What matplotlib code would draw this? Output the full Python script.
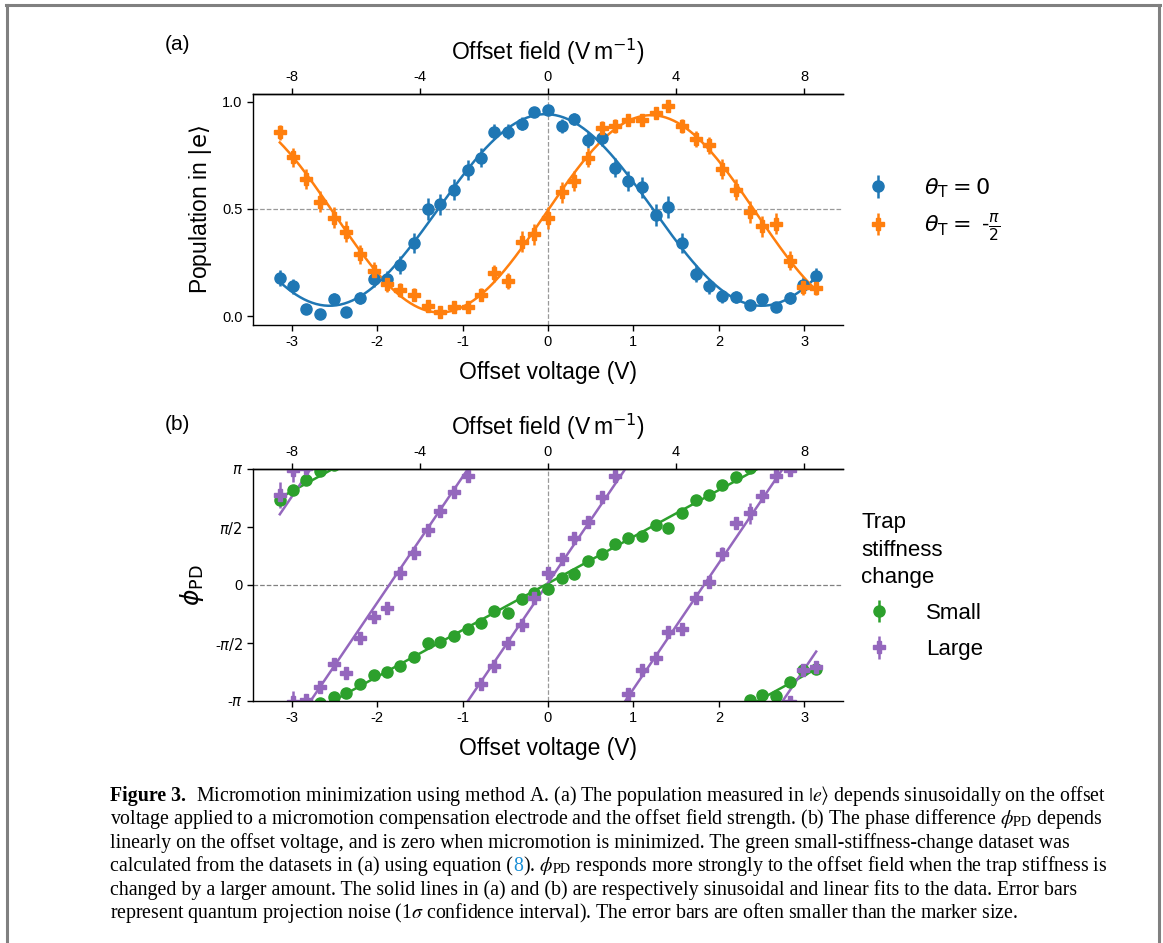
import numpy as np
import matplotlib
matplotlib.use('Agg')
import matplotlib.pyplot as plt
from matplotlib.lines import Line2D

plt.rcParams['font.family'] = ['Liberation Sans', 'DejaVu Sans']
plt.rcParams['axes.unicode_minus'] = False
plt.rcParams['mathtext.fontset'] = 'dejavusans'

PI = np.pi
FIELD_PER_VOLT = 8 / 3  # offset field (V/m) per offset voltage (V)

# offset voltage (V)
voltage = np.array([-3.14, -2.98, -2.83, -2.67, -2.51, -2.36, -2.20, -2.04, -1.88, -1.73,
                    -1.57, -1.41, -1.26, -1.10, -0.94, -0.79, -0.63, -0.47, -0.31, -0.16,
                    0.00, 0.16, 0.31, 0.47, 0.63, 0.79, 0.94, 1.10, 1.26, 1.41,
                    1.57, 1.73, 1.88, 2.04, 2.20, 2.36, 2.51, 2.67, 2.83, 2.98, 3.14])

# (a) population in |e>
pop_theta0 = np.array([0.179, 0.139, 0.031, 0.008, 0.081, 0.020, 0.083, 0.172, 0.172, 0.239,
                       0.339, 0.499, 0.521, 0.590, 0.680, 0.740, 0.860, 0.860, 0.899, 0.952,
                       0.961, 0.888, 0.919, 0.821, 0.830, 0.693, 0.630, 0.602, 0.471, 0.509,
                       0.340, 0.198, 0.140, 0.092, 0.089, 0.050, 0.078, 0.041, 0.083, 0.147, 0.187])
err_theta0 = np.array([0.038, 0.035, 0.017, 0.010, 0.028, 0.014, 0.028, 0.038, 0.038, 0.043,
                       0.047, 0.050, 0.050, 0.049, 0.047, 0.044, 0.035, 0.035, 0.030, 0.021,
                       0.020, 0.032, 0.027, 0.038, 0.038, 0.046, 0.048, 0.049, 0.050, 0.050,
                       0.047, 0.040, 0.035, 0.029, 0.029, 0.022, 0.027, 0.020, 0.028, 0.035, 0.039])
pop_theta_m90 = np.array([0.858, 0.741, 0.641, 0.534, 0.460, 0.393, 0.289, 0.211, 0.150, 0.122,
                          0.100, 0.048, 0.020, 0.041, 0.042, 0.100, 0.200, 0.162, 0.348, 0.381,
                          0.457, 0.577, 0.630, 0.740, 0.880, 0.888, 0.917, 0.917, 0.949, 0.980,
                          0.888, 0.828, 0.797, 0.688, 0.590, 0.485, 0.420, 0.431, 0.259, 0.134, 0.131])
err_theta_m90 = np.array([0.035, 0.044, 0.048, 0.050, 0.050, 0.049, 0.045, 0.041, 0.036, 0.033,
                          0.030, 0.021, 0.014, 0.020, 0.020, 0.030, 0.040, 0.037, 0.048, 0.049,
                          0.050, 0.049, 0.048, 0.044, 0.032, 0.032, 0.028, 0.028, 0.022, 0.014,
                          0.032, 0.038, 0.040, 0.046, 0.049, 0.050, 0.049, 0.050, 0.044, 0.034, 0.034])

# (b) phase difference phi_PD, in units of pi
phase_small = np.array([0.729, 0.816, 0.908, 0.980, -0.965, -0.931, -0.856, -0.778, -0.749, -0.695,
                        -0.622, -0.504, -0.490, -0.441, -0.383, -0.326, -0.222, -0.245, -0.118, -0.072,
                        -0.035, 0.063, 0.095, 0.207, 0.271, 0.354, 0.406, 0.424, 0.519, 0.493,
                        0.622, 0.735, 0.778, 0.862, 0.928, -0.990, -0.948, -0.957, -0.836, -0.735, -0.720])
err_small = np.array([0.03, 0.025, 0.02, 0.02, 0.02, 0.02, 0.02, 0.02, 0.02, 0.02,
                      0.02, 0.02, 0.02, 0.02, 0.02, 0.02, 0.02, 0.02, 0.02, 0.02,
                      0.02, 0.02, 0.02, 0.02, 0.02, 0.02, 0.02, 0.02, 0.02, 0.02,
                      0.02, 0.02, 0.02, 0.02, 0.02, 0.02, 0.02, 0.02, 0.02, 0.025, 0.03])
phase_large = np.array([0.778, 0.990, -0.990, -0.879, -0.677, -0.755, -0.455, -0.274, -0.202, 0.107,
                        0.280, 0.476, 0.634, 0.798, 0.942, -0.850, -0.700, -0.504, -0.349, -0.115,
                        0.101, 0.222, 0.406, 0.545, 0.755, 0.937, -0.942, -0.735, -0.631, -0.403,
                        -0.375, -0.115, 0.029, 0.268, 0.533, 0.620, 0.769, 0.942, 0.990, -0.729, -0.706])
err_large = np.array([0.11, 0.10, 0.05, 0.04, 0.04, 0.035, 0.04, 0.035, 0.035, 0.035,
                      0.035, 0.035, 0.035, 0.035, 0.035, 0.035, 0.035, 0.035, 0.035, 0.035,
                      0.04, 0.035, 0.035, 0.035, 0.035, 0.035, 0.035, 0.035, 0.04, 0.035,
                      0.035, 0.04, 0.05, 0.06, 0.04, 0.09, 0.04, 0.04, 0.04, 0.035, 0.035])

C_BLUE, C_ORANGE, C_GREEN, C_PURPLE = '#1f77b4', '#ff7f0e', '#2ca02c', '#9467bd'

CAPTION = [
    [('Figure 3.', 'bold', 'black'),
     (r'Micromotion minimization using method A. (a) The population measured in $|e\rangle$ depends sinusoidally on the offset', 'normal', 'black')],
    [(r'voltage applied to a micromotion compensation electrode and the offset field strength. (b) The phase difference $\phi_{\rm PD}$ depends', 'normal', 'black')],
    [('linearly on the offset voltage, and is zero when micromotion is minimized. The green small-stiffness-change dataset was', 'normal', 'black')],
    [('calculated from the datasets in (a) using equation (', 'normal', 'black'),
     ('8', 'normal', '#1a8fd6'),
     (r'). $\phi_{\rm PD}$ responds more strongly to the offset field when the trap stiffness is', 'normal', 'black')],
    [('changed by a larger amount. The solid lines in (a) and (b) are respectively sinusoidal and linear fits to the data. Error bars', 'normal', 'black')],
    [(r'represent quantum projection noise (1$\sigma$ confidence interval). The error bars are often smaller than the marker size.', 'normal', 'black')],
]


def fit_sine(x, y):
    """least-squares sinusoid, scanning the frequency"""
    best = None
    for k in np.linspace(0.8, 1.8, 501):
        A = np.column_stack([np.ones_like(x), np.cos(k * x), np.sin(k * x)])
        coef, *_ = np.linalg.lstsq(A, y, rcond=None)
        res = np.sum((A @ coef - y) ** 2)
        if best is None or res < best[0]:
            best = (res, k, coef)
    _, k, c = best
    xs = np.linspace(x.min(), x.max(), 400)
    return xs, c[0] + c[1] * np.cos(k * xs) + c[2] * np.sin(k * xs)


def fit_wrapped_line(x, phase):
    unwrapped = np.unwrap(phase)
    slope, icpt = np.polyfit(x, unwrapped, 1)
    xs = np.linspace(x.min(), x.max(), 400)
    return xs, slope * xs + icpt


def style_axes(ax):
    ax.spines['right'].set_visible(False)
    for s in ax.spines.values():
        s.set_linewidth(1.0)
    ax.tick_params(labelsize=10.5, width=1.0, length=4)
    ax.set_xlim(-3.454, 3.454)
    ax.set_xticks([-3, -2, -1, 0, 1, 2, 3])
    ax.set_xlabel('Offset voltage (V)', fontsize=16.5, labelpad=8)
    sec = ax.secondary_xaxis('top', functions=(lambda v: v * FIELD_PER_VOLT,
                                               lambda f: f / FIELD_PER_VOLT))
    sec.set_xticks([-8, -4, 0, 4, 8])
    sec.tick_params(labelsize=10.5, width=1.0, length=4)
    sec.spines['top'].set_linewidth(1.0)
    sec.set_xlabel(r'Offset field (V$\,$m$^{-1}$)', fontsize=16.5, labelpad=7)
    ax.axvline(0, color='0.6', lw=0.9, ls='--', zorder=0)


W, H = 1163, 943
fig = plt.figure(figsize=(W / 100, H / 100), dpi=100)

# ---------- (a) ----------
ax1 = fig.add_axes([253 / W, 1 - 325 / H, 590 / W, 231 / H])
style_axes(ax1)
ax1.axhline(0.5, color='0.6', lw=0.9, ls='--', zorder=0)
e1 = ax1.errorbar(voltage, pop_theta0, yerr=err_theta0, fmt='o', ms=8, color=C_BLUE,
                  elinewidth=1.8, capsize=0, label=r'$\theta_\mathrm{T} = 0$')
xs, ys = fit_sine(voltage, pop_theta0)
ax1.plot(xs, ys, color=C_BLUE, lw=1.8)
e2 = ax1.errorbar(voltage, pop_theta_m90, yerr=err_theta_m90, fmt='P', ms=9, color=C_ORANGE,
                  elinewidth=1.8, capsize=0, label=r'$\theta_\mathrm{T} =$ -$\frac{\pi}{2}$')
xs, ys = fit_sine(voltage, pop_theta_m90)
ax1.plot(xs, ys, color=C_ORANGE, lw=1.8)
ax1.set_ylim(-0.042, 1.037)
ax1.set_yticks([0.0, 0.5, 1.0])
ax1.set_ylabel(r'Population in $|\mathrm{e}\rangle$', fontsize=16.5, labelpad=6)
ax1.legend(handles=[e1, e2], loc='center left', bbox_to_anchor=(0.995, 0.5), frameon=False,
           fontsize=16, handlelength=1.6, handletextpad=1.3, labelspacing=0.5)

# ---------- (b) ----------
ax2 = fig.add_axes([253 / W, 1 - 701 / H, 590 / W, 232 / H])
style_axes(ax2)
ax2.axhline(0, color='0.5', lw=0.9, ls='--', zorder=0)
handles = []
for phase, err, col, mk, ms, lab in [(phase_small, err_small, C_GREEN, 'o', 8, 'Small'),
                                     (phase_large, err_large, C_PURPLE, 'P', 9, 'Large')]:
    y = phase * PI
    for shift in (-2 * PI, 0, 2 * PI):
        h = ax2.errorbar(voltage, y + shift, yerr=err * PI, fmt=mk, ms=ms, color=col,
                         elinewidth=1.8, capsize=0, label=lab if shift == 0 else None)
        if shift == 0:
            handles.append(h)
    xs, ys = fit_wrapped_line(voltage, y)
    for k in range(-5, 6):
        ax2.plot(xs, ys + 2 * PI * k, color=col, lw=1.8)
ax2.set_ylim(-PI, PI)
ax2.set_yticks([-PI, -PI / 2, 0, PI / 2, PI])
ax2.set_yticklabels(['-$\\pi$', '-$\\pi/2$', '0', '$\\pi/2$', '$\\pi$'])
ax2.set_ylabel(r'$\phi_\mathrm{PD}$', fontsize=18, labelpad=6)
leg = ax2.legend(handles=handles, loc='center left', bbox_to_anchor=(0.997, 0.495), frameon=False,
                 fontsize=16, handlelength=1.6, handletextpad=1.3, labelspacing=0.68,
                 title='Trap\nstiffness\nchange', title_fontsize=16, alignment='left')
leg.get_title().set_linespacing(1.4)

fig.text(165 / W, 1 - 45 / H, '(a)', fontsize=15, va='center')
fig.text(165 / W, 1 - 425 / H, '(b)', fontsize=15, va='center')

# ---------- frame and caption ----------
frame_kw = dict(color='#808080', lw=2.2, transform=fig.transFigure)
fig.add_artist(Line2D([6 / W, 1160 / W], [1 - 5 / H, 1 - 5 / H], **frame_kw))
fig.add_artist(Line2D([7 / W, 7 / W], [0, 1 - 5 / H], **frame_kw))
fig.add_artist(Line2D([1159 / W, 1159 / W], [0, 1 - 5 / H], **frame_kw))

fig.canvas.draw()
renderer = fig.canvas.get_renderer()
baseline = 801
for segments in CAPTION:
    x = 110
    for i, (txt, weight, col) in enumerate(segments):
        t = fig.text(x / W, 1 - baseline / H, txt, fontsize=14.3, family='Liberation Serif',
                     math_fontfamily='stix', weight=weight, color=col, va='baseline')
        x += t.get_window_extent(renderer).width
        if weight == 'bold':
            x += 10
    baseline += 23.4

fig.savefig('out.png', dpi=100)
